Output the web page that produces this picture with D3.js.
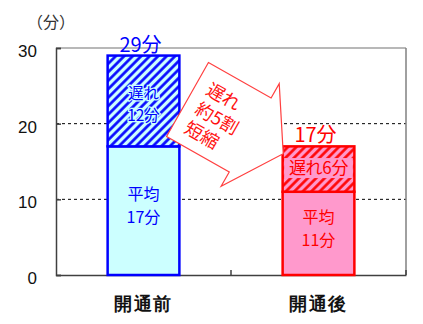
<!DOCTYPE html>
<html>
<head>
<meta charset="utf-8">
<script src="https://cdn.jsdelivr.net/npm/d3@7"></script>
<style>
  html, body { margin: 0; padding: 0; background: #fff; }
  svg { display: block; font-family: "Noto Sans CJK JP", "Noto Sans", sans-serif; }
</style>
</head>
<body>
<svg id="chart" width="423" height="324"></svg>
<script>
// Travel time before / after opening (minutes)
const categories = ["開通前", "開通後"];
const averageMinutes = [17, 11];
const delayMinutes = [12, 6];
const yTicks = [0, 10, 20, 30];
const unitLabel = "（分）";
const arrowLines = ["遅れ", "約5割", "短縮"];

const strokeColors = ["#0000ff", "#ff0000"];
const fillColors = ["#ccffff", "#ff99cc"];

const svg = d3.select("#chart");
const plotLeft = 56, plotRight = 406, plotTop = 48, plotBottom = 275;

const x = d3.scaleBand().domain(categories).range([plotLeft, plotRight])
  .paddingInner(0.59).paddingOuter(0.295);
const y = d3.scaleLinear().domain([0, 30]).range([plotBottom, plotTop]);

// hatch patterns for the delay segments
const defs = svg.append("defs");
categories.forEach((c, i) => {
  const p = defs.append("pattern")
    .attr("id", "hatch" + i)
    .attr("patternUnits", "userSpaceOnUse")
    .attr("width", 6).attr("height", 6)
    .attr("patternTransform", "rotate(45)");
  p.append("rect").attr("width", 6).attr("height", 6).attr("fill", fillColors[i]);
  p.append("line").attr("x1", 1.5).attr("x2", 1.5).attr("y1", 0).attr("y2", 6)
    .attr("stroke", strokeColors[i]).attr("stroke-width", 2.6);
});

// dashed gridlines
svg.append("g").selectAll("line").data(yTicks.filter(t => t > 0 && t < 30)).join("line")
  .attr("x1", plotLeft).attr("x2", plotRight)
  .attr("y1", d => y(d)).attr("y2", d => y(d))
  .attr("stroke", "#000").attr("stroke-width", 1).attr("stroke-dasharray", "3,3");

// frame
svg.append("line").attr("x1", plotLeft).attr("x2", plotRight).attr("y1", y(30)).attr("y2", y(30))
  .attr("stroke", "#a0a0a0").attr("stroke-width", 1.5);
svg.append("line").attr("x1", plotRight).attr("x2", plotRight).attr("y1", y(30)).attr("y2", y(0))
  .attr("stroke", "#808080").attr("stroke-width", 1.5);

// y axis
const yAxis = d3.axisLeft(y).tickValues(yTicks).tickSize(-5).tickPadding(19)
  .tickFormat(d3.format("d"));
const gy = svg.append("g").attr("transform", `translate(${plotLeft},0)`).call(yAxis);
gy.select(".domain").attr("stroke", "#404040").attr("stroke-width", 1.5);
gy.selectAll(".tick line").attr("stroke", "#404040").attr("stroke-width", 1.5);
gy.selectAll(".tick text").attr("font-size", 17).attr("fill", "#111")
  .attr("font-family", "Liberation Sans, Arial, sans-serif").attr("dy", "0.5em");

// x axis
const xAxis = d3.axisBottom(x).tickSize(0).tickPadding(21);
const gx = svg.append("g").attr("transform", `translate(0,${plotBottom})`).call(xAxis);
gx.select(".domain").attr("stroke", "#404040").attr("stroke-width", 1.5);
gx.selectAll(".tick text").attr("font-size", 18).attr("font-weight", "900")
  .attr("fill", "#111").attr("letter-spacing", 1.5).attr("dy", "0.75em");
// inner tick marks between and after the categories
const midGap = (x(categories[0]) + x(categories[1]) + x.bandwidth()) / 2;
svg.append("g").selectAll("line").data([midGap, plotRight]).join("line")
  .attr("x1", d => d).attr("x2", d => d)
  .attr("y1", plotBottom).attr("y2", plotBottom - 5)
  .attr("stroke", "#404040").attr("stroke-width", 1.5);

// unit label
svg.append("text").attr("x", 27).attr("y", 28).attr("font-size", 16).attr("fill", "#333")
  .text(unitLabel);

// bars
const bars = svg.append("g").selectAll("g").data(categories).join("g");
bars.append("rect")
  .attr("x", d => x(d)).attr("width", x.bandwidth())
  .attr("y", (d, i) => y(averageMinutes[i]))
  .attr("height", (d, i) => y(0) - y(averageMinutes[i]))
  .attr("fill", (d, i) => fillColors[i])
  .attr("stroke", (d, i) => strokeColors[i]).attr("stroke-width", 2.5);
bars.append("rect")
  .attr("x", d => x(d)).attr("width", x.bandwidth())
  .attr("y", (d, i) => y(averageMinutes[i] + delayMinutes[i]))
  .attr("height", (d, i) => y(averageMinutes[i]) - y(averageMinutes[i] + delayMinutes[i]))
  .attr("fill", (d, i) => `url(#hatch${i})`)
  .attr("stroke", (d, i) => strokeColors[i]).attr("stroke-width", 2.5);

// two-line label as one text element
function twoLines(g, cx, y0, lines, gap) {
  const t = g.append("text").attr("x", cx).attr("y", y0).attr("dy", "0.35em");
  lines.forEach((s, k) => {
    t.append("tspan").attr("x", cx).attr("dy", k === 0 ? "0.35em" : gap).text(s);
  });
  return t;
}

// segment labels
categories.forEach((c, i) => {
  const cx = x(c) + x.bandwidth() / 2;
  const avgMid = (y(0) + y(averageMinutes[i])) / 2 - 4;
  const g = svg.append("g").attr("fill", strokeColors[i]).attr("font-size", 16)
    .attr("text-anchor", "middle");
  twoLines(g, cx, avgMid - 12, ["平均", `${averageMinutes[i]}分`], 23);

  const delayTop = y(averageMinutes[i] + delayMinutes[i]);
  const delayMid = (delayTop + y(averageMinutes[i])) / 2;
  if (i === 0) {
    twoLines(g, cx, delayMid - 7, ["遅れ", `${delayMinutes[i]}分`], 22)
      .attr("font-size", 15.5)
      .attr("stroke", fillColors[i]).attr("stroke-width", 2.5)
      .attr("paint-order", "stroke");
  } else {
    g.append("rect").attr("x", x(c) + 1.5).attr("width", x.bandwidth() - 3)
      .attr("y", delayMid - 11).attr("height", 20).attr("fill", fillColors[i]);
    g.append("text").attr("x", cx).attr("y", delayMid - 1).attr("dy", "0.35em")
      .attr("font-size", 17).attr("letter-spacing", -0.3)
      .text(`遅れ${delayMinutes[i]}分`);
  }
  g.append("text").attr("x", cx - 3).attr("y", delayTop - 4).attr("font-size", 20)
    .text(`${averageMinutes[i] + delayMinutes[i]}分`);
});

// block arrow pointing from the first bar towards the second
const arrow = svg.append("g").attr("transform", "translate(187.5,99.5) rotate(29.5)");
const body = 72, halfW = 42.5, headHalf = 59, headLen = 38;
const arrowPts = [[0, -halfW], [body, -halfW], [body, -headHalf], [body + headLen, 0],
  [body, headHalf], [body, halfW], [0, halfW]];
arrow.append("path").attr("d", d3.line()(arrowPts) + "Z")
  .attr("fill", "#fff").attr("stroke", "#ff4040").attr("stroke-width", 1.2);
const arrowText = arrow.append("text").attr("x", 12).attr("y", -20)
  .attr("font-size", 18).attr("fill", "#ff1010");
arrowLines.forEach((s, k) => {
  arrowText.append("tspan").attr("x", 12).attr("dy", k === 0 ? "0.35em" : 22).text(s);
});
</script>
</body>
</html>
